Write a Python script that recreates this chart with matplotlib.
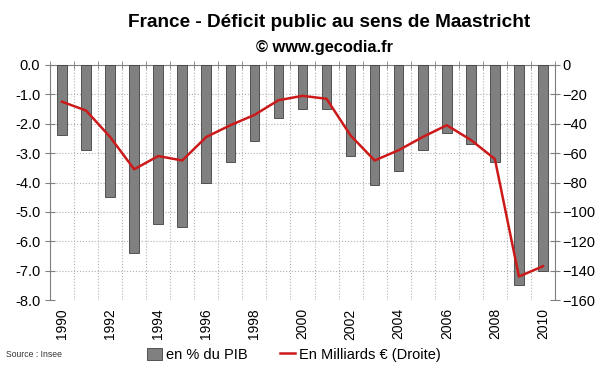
import numpy as np
import matplotlib.pyplot as plt

plt.rcParams['font.family'] = ['Liberation Sans', 'DejaVu Sans']

# donnees
annees = list(range(1990, 2011))
pct_pib = [-2.4, -2.9, -4.5, -6.4, -5.4, -5.5, -4.0, -3.3, -2.6, -1.8, -1.5,
           -1.5, -3.1, -4.1, -3.6, -2.9, -2.3, -2.7, -3.3, -7.5, -7.0]
milliards = [-25, -31, -49, -71, -62, -65, -49, -41, -34, -24, -21,
             -23, -48, -65, -58, -49, -41, -51, -64, -144, -137]

fig = plt.figure(figsize=(6, 3.72), dpi=100)
ax = fig.add_axes([0.0833, 0.1935, 0.8417, 0.6318])
x = np.arange(len(annees))

ax.bar(x, pct_pib, width=0.4, color='#808080', edgecolor='#404040', linewidth=0.6, zorder=3)
ax.set_xlim(-0.5, len(annees) - 0.5)
ax.set_ylim(-8, 0)
yt = np.arange(-8, 0.1, 1)
ax.set_yticks(yt)
ax.set_yticklabels(['%.1f' % v for v in yt])
ax.grid(axis='y', which='major', linestyle=':', color='#b0b0b0', linewidth=0.8, zorder=0)

# grille verticale entre les annees
ax.set_xticks(x[::2])
ax.set_xticklabels([str(a) for a in annees[::2]], rotation=90)
ax.set_xticks(np.arange(-0.5, len(annees), 1), minor=True)
ax.grid(axis='x', which='minor', linestyle=':', color='#b0b0b0', linewidth=0.8, zorder=0)
ax.tick_params(axis='x', which='major', length=0, pad=6, labelsize=10)
ax.tick_params(axis='x', which='minor', top=True, bottom=False, direction='inout', length=6, color='#808080')
ax.tick_params(axis='y', direction='inout', length=7, color='#808080', labelsize=10.5)

for s in ['left', 'top']:
    ax.spines[s].set_color('#808080')
ax.spines['bottom'].set_visible(False)
ax.spines['right'].set_visible(False)

ax2 = ax.twinx()
l, = ax2.plot(x, milliards, color='#cc1a1a', linewidth=1.8, zorder=4)
ax2.set_ylim(-160, 0)
ax2.set_yticks(np.arange(-160, 1, 20))
ax2.tick_params(axis='y', direction='inout', length=7, color='#808080', labelsize=10.5, pad=2)
ax2.spines['right'].set_color('#808080')
for s in ['left', 'top', 'bottom']:
    ax2.spines[s].set_visible(False)

fig.text(0.548, 0.94, 'France - Déficit public au sens de Maastricht', ha='center', va='center',
         fontsize=13.7, fontweight='bold')
fig.text(0.54, 0.873, '© www.gecodia.fr', ha='center', va='center', fontsize=11.8, fontweight='bold')
fig.text(0.01, 0.047, 'Source : Insee', fontsize=6.2, va='center', color='#333333')

h1 = plt.Rectangle((0, 0), 1, 1, facecolor='#808080', edgecolor='#404040', linewidth=0.6)
fig.legend([h1, l], ['en % du PIB', 'En Milliards € (Droite)'], loc='center',
           bbox_to_anchor=(0.49, 0.046), ncol=2, frameon=False, fontsize=10.5,
           handlelength=1.0, handleheight=0.9, handletextpad=0.3, columnspacing=2.2)

fig.savefig('out.png', dpi=100, facecolor='white')
